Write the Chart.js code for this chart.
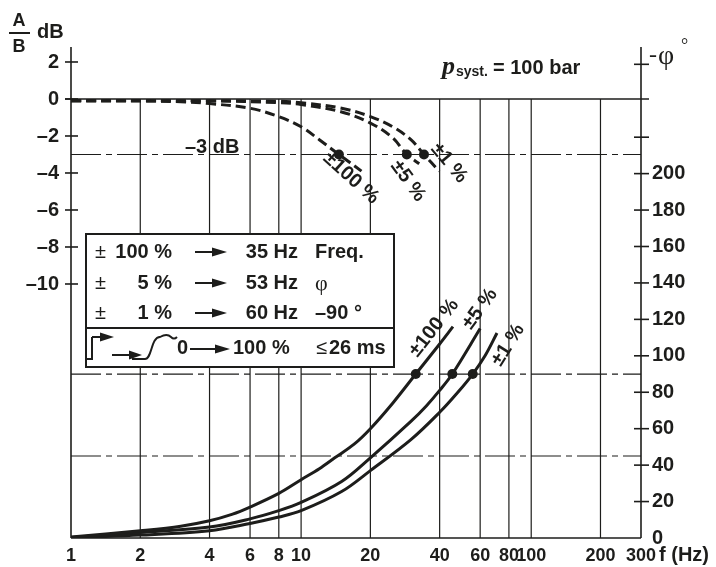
<!DOCTYPE html>
<html>
<head>
<meta charset="utf-8">
<script src="https://cdn.jsdelivr.net/npm/chart.js@4.4.1/dist/chart.umd.min.js"></script>
<style>
html, body { margin: 0; padding: 0; background: #fff; }
#wrap { width: 716px; height: 567px; }
</style>
</head>
<body>
<div id="wrap"><canvas id="c" width="716" height="567"></canvas></div>
<script>
var INK = '#1d1d1b';
var SANS = '"Liberation Sans", Arial, sans-serif';
var SERIF = '"Liberation Serif", "DejaVu Serif", serif';

// axes
var freqTicks = [1, 2, 4, 6, 8, 10, 20, 40, 60, 80, 100, 200, 300];
var freqGrid = [2, 4, 6, 8, 10, 20, 40, 60, 80, 100, 200];
var dbTicks = [2, 0, -2, -4, -6, -8, -10];
var phaseTicks = [0, 20, 40, 60, 80, 100, 120, 140, 160, 180, 200];
var phaseMarks = [20, 40, 60, 80, 100, 120, 140, 160, 180, 200, 220, 260];

// amplitude A/B (dB), dashed
var ampF100 = [1, 2, 3, 4, 6, 8, 10, 12, 14.6, 18.3];
var ampDb100 = [-0.1, -0.1, -0.15, -0.25, -0.5, -0.95, -1.5, -2.2, -3, -3.9];
var ampF5 = [1, 4, 8, 10, 15, 20, 25, 28.8, 32.6];
var ampDb5 = [-0.1, -0.1, -0.2, -0.3, -0.7, -1.3, -2.1, -3, -3.5];
var ampF1 = [1, 4, 8, 10, 15, 20, 25, 30, 34.2, 39.8];
var ampDb1 = [-0.1, -0.1, -0.12, -0.2, -0.5, -0.95, -1.5, -2.2, -3, -3.9];

// phase -phi (deg), solid
var phF100 = [1, 2, 3, 4, 5, 6, 8, 10, 12, 14, 17, 20, 25, 31.5, 40, 45.7];
var phDeg100 = [0.5, 4, 6.5, 9.5, 13, 17, 24.5, 32, 38, 44, 51.5, 60, 74, 90, 106.5, 116];
var phF5 = [1, 2, 4, 6, 8, 10, 15, 20, 30, 35, 40, 45.4, 60];
var phDeg5 = [0.3, 3, 6, 10.5, 15, 19.5, 31, 44, 64, 72.5, 81, 90, 115];
var phF1 = [1, 2, 4, 6, 8, 10, 15, 20, 30, 40, 48, 55.7, 63, 71];
var phDeg1 = [0.2, 1.6, 4, 8, 11.5, 15, 25.5, 37, 54, 69, 80, 90, 100, 112.5];

// marked points
var dotAmpF = [14.6, 28.8, 34.2];
var dotPhF = [31.5, 45.4, 55.7];

function pts(xs, ys) {
  return xs.map(function (v, i) { return { x: v, y: ys[i] }; });
}
function konst(xs, c) {
  return xs.map(function (v) { return { x: v, y: c }; });
}

function curve(data, axis, dashed) {
  return {
    data: data,
    yAxisID: axis,
    borderColor: INK,
    borderWidth: 3,
    borderDash: dashed ? [10, 5] : [],
    pointRadius: 0,
    tension: 0.35,
    fill: false
  };
}
function dots(data, axis) {
  return {
    data: data,
    yAxisID: axis,
    showLine: false,
    pointRadius: 5,
    pointBackgroundColor: INK,
    pointBorderWidth: 0
  };
}

function line(ctx, x1, y1, x2, y2) {
  ctx.beginPath();
  ctx.moveTo(x1, y1);
  ctx.lineTo(x2, y2);
  ctx.stroke();
}
function arrow(ctx, x1, x2, y, head) {
  ctx.lineWidth = 2;
  line(ctx, x1, y, x2 - head + 2, y);
  ctx.beginPath();
  ctx.moveTo(x2, y);
  ctx.lineTo(x2 - head, y - 4.5);
  ctx.lineTo(x2 - head, y + 4.5);
  ctx.closePath();
  ctx.fill();
}
function text(ctx, s, x, y, font, align) {
  ctx.font = font;
  ctx.textAlign = align || 'left';
  ctx.fillText(s, x, y);
}
function rotText(ctx, s, x, y, deg) {
  ctx.save();
  ctx.translate(x, y);
  ctx.rotate(deg * Math.PI / 180);
  text(ctx, s, 0, 0, 'bold 20px ' + SANS, 'center');
  ctx.restore();
}

var decor = {
  id: 'decor',
  beforeDatasetsDraw: function (chart) {
    var ctx = chart.ctx, a = chart.chartArea;
    var x = chart.scales.x, yA = chart.scales.yA, yP = chart.scales.yP;
    var y0 = yA.getPixelForValue(0);
    ctx.save();
    ctx.strokeStyle = INK;
    ctx.fillStyle = INK;

    // vertical grid below the 0 dB line
    ctx.lineWidth = 1.2;
    freqGrid.forEach(function (f) {
      var xx = x.getPixelForValue(f);
      line(ctx, xx, y0, xx, a.bottom);
    });

    // -3 dB, 90 deg and 45 deg lines
    ctx.setLineDash([30, 5, 6, 5]);
    [yA.getPixelForValue(-3), yP.getPixelForValue(90), yP.getPixelForValue(45)].forEach(function (yy) {
      line(ctx, a.left, yy, a.right, yy);
    });
    ctx.setLineDash([]);

    // 0 dB line and frame
    ctx.lineWidth = 1.6;
    line(ctx, a.left - 6, y0, a.right + 8, y0);
    line(ctx, a.left, a.top, a.left, a.bottom);
    line(ctx, a.right, a.top, a.right, a.bottom);
    line(ctx, a.left, a.bottom, a.right, a.bottom);
    dbTicks.forEach(function (v) {
      var yy = yA.getPixelForValue(v);
      line(ctx, a.left - 6, yy, a.left + 7, yy);
    });
    phaseMarks.forEach(function (v) {
      var yy = yP.getPixelForValue(v);
      line(ctx, a.right - 7, yy, a.right + 8, yy);
    });

    // info box
    var bx = 86, by = 234, bw = 308, bh = 133;
    ctx.fillStyle = '#fff';
    ctx.fillRect(bx, by, bw, bh);
    ctx.fillStyle = INK;
    ctx.lineWidth = 2;
    ctx.strokeRect(bx, by, bw, bh);
    line(ctx, bx, 328, bx + bw, 328);

    ctx.textBaseline = 'middle';
    var B = 'bold 20px ' + SANS, R = '20px ' + SANS;
    var rows = [252, 283, 313];
    var pct = ['100 %', '5 %', '1 %'];
    var hz = ['35 Hz', '53 Hz', '60 Hz'];
    rows.forEach(function (ry, i) {
      text(ctx, '\u00b1', 95, ry, R);
      text(ctx, pct[i], 172, ry, B, 'right');
      arrow(ctx, 195, 227, ry, 15);
      text(ctx, hz[i], 298, ry, B, 'right');
    });
    text(ctx, 'Freq.', 315, 252, B);
    text(ctx, '\u03c6', 315, 284, '22px ' + SERIF);
    text(ctx, '\u201390 \u00b0', 315, 313, B);

    // step response row
    ctx.lineWidth = 2;
    ctx.beginPath();
    ctx.moveTo(bx, 359);
    ctx.lineTo(92, 359);
    ctx.lineTo(92, 337);
    ctx.stroke();
    arrow(ctx, 92, 114, 337, 14);
    arrow(ctx, 112, 142, 355, 13);
    ctx.lineWidth = 2;
    ctx.beginPath();
    ctx.moveTo(132, 359);
    ctx.lineTo(145, 359);
    ctx.bezierCurveTo(152, 359, 151, 337, 160, 337);
    ctx.quadraticCurveTo(167, 333, 171, 337);
    ctx.quadraticCurveTo(174, 340, 177, 337);
    ctx.stroke();
    text(ctx, '0', 177, 348, B);
    arrow(ctx, 190, 230, 349, 15);
    text(ctx, '100 %', 233, 348, B);
    text(ctx, '\u2264', 316, 348, R);
    text(ctx, '26 ms', 329, 348, B);
    ctx.restore();
  },
  afterDatasetsDraw: function (chart) {
    var ctx = chart.ctx;
    ctx.save();
    ctx.fillStyle = INK;
    ctx.strokeStyle = INK;
    ctx.textBaseline = 'middle';
    var B = 'bold 20px ' + SANS;

    // curve labels
    rotText(ctx, '\u00b1100 %', 351, 178, 42);
    rotText(ctx, '\u00b15 %', 408, 181, 54);
    rotText(ctx, '\u00b11 %', 449, 163, 50);
    rotText(ctx, '\u00b1100 %', 434, 328, -52);
    rotText(ctx, '\u00b15 %', 480, 309, -54);
    rotText(ctx, '\u00b11 %', 508, 345, -58);

    text(ctx, '\u20133 dB', 185, 147, B);

    // axis titles
    text(ctx, 'A', 19, 21, 'bold 18px ' + SANS, 'center');
    ctx.lineWidth = 2;
    line(ctx, 9, 33, 30, 33);
    text(ctx, 'B', 19, 47, 'bold 18px ' + SANS, 'center');
    text(ctx, 'dB', 37, 32, B);
    text(ctx, 'f (Hz)', 659, 555, B);

    text(ctx, '-', 649, 56, '24px ' + SERIF);
    text(ctx, '\u03c6', 658, 57, '28px ' + SERIF);
    text(ctx, '\u00b0', 681, 46, '18px ' + SERIF);

    ctx.textBaseline = 'alphabetic';
    text(ctx, 'p', 442, 74, 'bold italic 26px ' + SERIF);
    text(ctx, 'syst.', 456, 76, 'bold 14px ' + SANS);
    text(ctx, '= 100 bar', 493, 74, B);
    ctx.restore();
  }
};

var tickFont = { family: SANS, size: 20, weight: 'bold' };

new Chart(document.getElementById('c'), {
  type: 'line',
  data: {
    datasets: [
      curve(pts(ampF100, ampDb100), 'yA', true),
      curve(pts(ampF5, ampDb5), 'yA', true),
      curve(pts(ampF1, ampDb1), 'yA', true),
      curve(pts(phF100, phDeg100), 'yP', false),
      curve(pts(phF5, phDeg5), 'yP', false),
      curve(pts(phF1, phDeg1), 'yP', false),
      dots(konst(dotAmpF, -3), 'yA'),
      dots(konst(dotPhF, 90), 'yP')
    ]
  },
  options: {
    responsive: false,
    animation: false,
    devicePixelRatio: 1,
    layout: { padding: { top: 47, left: 0, right: 0, bottom: 0 } },
    plugins: { legend: { display: false }, tooltip: { enabled: false } },
    scales: {
      x: {
        type: 'logarithmic',
        position: 'bottom',
        min: 1,
        max: 300,
        grid: { display: false, drawTicks: false },
        border: { display: false },
        afterBuildTicks: function (s) { s.ticks = freqTicks.map(function (v) { return { value: v }; }); },
        afterFit: function (s) { s.height = 29; },
        ticks: {
          autoSkip: false, maxRotation: 0, padding: 7, color: INK,
          font: { family: SANS, size: 18, weight: 'bold' },
          callback: function (v) { return String(v); }
        }
      },
      yA: {
        type: 'linear',
        position: 'left',
        min: -23.73,
        max: 2.81,
        grid: { display: false, drawTicks: false },
        border: { display: false },
        afterBuildTicks: function (s) { s.ticks = dbTicks.map(function (v) { return { value: v }; }); },
        afterFit: function (s) { s.width = 71; },
        ticks: {
          padding: 12, color: INK, font: tickFont,
          callback: function (v) { return v < 0 ? '\u2013' + Math.abs(v) : String(v); }
        }
      },
      yP: {
        type: 'linear',
        position: 'right',
        min: 0,
        max: 269.5,
        grid: { display: false, drawTicks: false },
        border: { display: false },
        afterBuildTicks: function (s) { s.ticks = phaseTicks.map(function (v) { return { value: v }; }); },
        afterFit: function (s) { s.width = 75; },
        ticks: {
          padding: 11, color: INK, font: tickFont,
          callback: function (v) { return String(v); }
        }
      }
    }
  },
  plugins: [decor]
});
</script>
</body>
</html>
